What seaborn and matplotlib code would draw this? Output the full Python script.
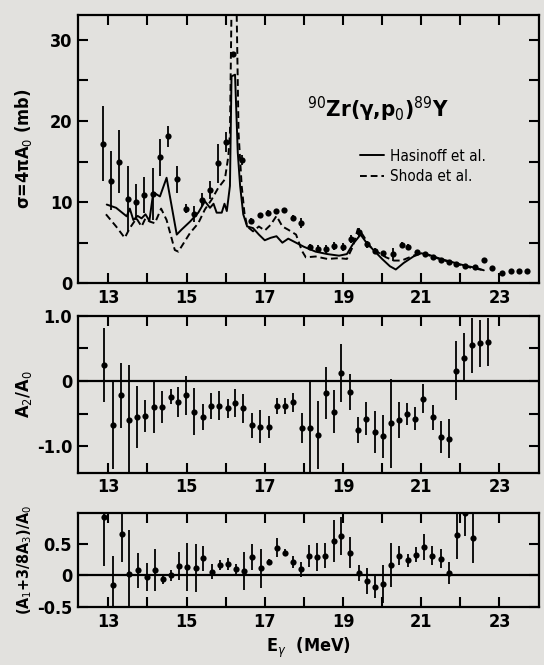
import matplotlib
matplotlib.use("Agg")
import matplotlib.pyplot as plt
import seaborn as sns
import pandas as pd
from matplotlib.ticker import FixedLocator

# --- top panel: sigma = 4 pi A0 (mb), measured points ---
sig_e = [12.87, 13.08, 13.28, 13.51, 13.72, 13.92, 14.13, 14.33, 14.53, 14.75,
         14.98, 15.19, 15.39, 15.6, 15.8, 16.0, 16.18, 16.41, 16.66, 16.88,
         17.09, 17.3, 17.5, 17.71, 17.92, 18.16, 18.36, 18.57, 18.78, 19.0,
         19.2, 19.42, 19.62, 19.82, 20.03, 20.29, 20.5, 20.67, 20.9, 21.1,
         21.3, 21.5, 21.7, 21.9, 22.12, 22.37, 22.6, 22.8, 23.06, 23.3, 23.5, 23.7]
sig_v = [17.2, 12.65, 15.0, 10.4, 10.0, 10.9, 11.0, 15.5, 18.1, 12.8,
         9.2, 8.5, 10.3, 11.5, 14.8, 17.4, 28.3, 15.2, 7.7, 8.4,
         8.7, 8.9, 9.0, 8.1, 7.4, 4.5, 4.2, 4.2, 4.6, 4.5,
         5.5, 6.3, 4.8, 4.0, 3.7, 3.6, 4.7, 4.5, 3.8, 3.6,
         3.2, 2.9, 2.6, 2.4, 2.1, 2.0, 2.9, 1.9, 1.3, 1.5, 1.5, 1.5]
sig_err = [4.6, 3.6, 3.9, 4.0, 2.2, 2.2, 3.2, 2.3, 1.3, 1.7,
           0.6, 1.0, 0.8, 1.1, 2.4, 1.2, 0.0, 0.6, 0.3, 0.3,
           0.3, 0.3, 0.3, 0.3, 0.6, 0.4, 0.5, 0.5, 0.5, 0.5,
           0.5, 0.5, 0.4, 0.3, 0.3, 0.8, 0.4, 0.3, 0.2, 0.2,
           0.2, 0.2, 0.2, 0.2, 0.2, 0.2, 0.2, 0.2, 0.2, 0.2, 0.2, 0.2]

# Hasinoff et al. (solid)
has_e = [12.96, 13.2, 13.47, 13.55, 13.64, 13.75, 13.85, 13.95, 14.05, 14.15,
         14.32, 14.49, 14.75, 14.87, 15.09, 15.3, 15.47, 15.6, 15.69, 15.77,
         15.9, 15.97, 16.03, 16.11, 16.15, 16.24, 16.31, 16.37, 16.45, 16.55,
         16.7, 16.85, 17.0, 17.15, 17.3, 17.45, 17.6, 17.8, 18.0, 18.3,
         18.6, 18.9, 19.1, 19.25, 19.45, 19.6, 19.8, 20.0, 20.2, 20.35,
         20.55, 20.8, 21.0, 21.2, 21.5, 21.8, 22.1, 22.4, 22.6]
has_v = [9.7, 9.3, 8.25, 9.2, 7.8, 8.3, 8.0, 8.5, 7.7, 11.2,
         10.7, 13.0, 6.0, 6.6, 7.6, 8.7, 10.1, 9.3, 9.8, 8.7,
         8.7, 9.8, 8.9, 12.0, 25.5, 25.7, 16.1, 12.0, 8.5, 7.0,
         6.8, 6.0, 5.3, 5.6, 5.8, 5.0, 5.5, 5.0, 4.5, 3.9,
         3.6, 3.4, 3.6, 4.8, 6.0, 5.0, 4.0, 3.0, 2.1, 1.7,
         2.5, 3.3, 3.7, 3.5, 3.0, 2.6, 2.2, 1.9, 1.6]

# Shoda et al. (dashed)
sho_e = [12.94, 13.2, 13.42, 13.55, 13.72, 13.85, 13.95, 14.06, 14.19, 14.35,
         14.49, 14.7, 14.79, 15.09, 15.3, 15.47, 15.64, 15.81, 15.98, 16.07,
         16.11, 16.15, 16.28, 16.33, 16.41, 16.48, 16.55, 16.7, 16.85, 17.0,
         17.15, 17.3, 17.45, 17.6, 17.8, 17.95, 18.05, 18.3, 18.6, 18.9,
         19.1, 19.25, 19.38, 19.5, 19.7, 19.9, 20.1, 20.3, 20.5, 20.7,
         20.9, 21.1, 21.4, 21.8, 22.2, 22.6]
sho_v = [8.5, 7.0, 5.6, 6.8, 8.0, 7.0, 8.0, 7.6, 7.4, 9.2,
         7.8, 4.1, 3.9, 6.2, 7.4, 9.1, 10.3, 11.75, 12.8, 15.7,
         18.5, 34.0, 34.0, 18.5, 12.0, 8.7, 7.0, 6.4, 7.0, 6.5,
         7.2, 8.3, 7.0, 6.6, 6.0, 4.0, 3.2, 3.3, 3.0, 3.1,
         3.0, 4.5, 6.7, 6.0, 4.5, 3.8, 3.2, 2.8, 2.8, 3.2,
         3.6, 3.6, 3.1, 2.5, 2.0, 1.6]

# --- middle panel: A2/A0 ---
a2_e = [12.89, 13.11, 13.32, 13.53, 13.74, 13.95, 14.16, 14.37, 14.6, 14.79,
        14.98, 15.2, 15.41, 15.62, 15.83, 16.05, 16.25, 16.45, 16.68, 16.88,
        17.1, 17.32, 17.52, 17.71, 17.94, 18.15, 18.36, 18.56, 18.77, 18.95,
        19.18, 19.39, 19.6, 19.81, 20.02, 20.24, 20.44, 20.64, 20.85, 21.05,
        21.29, 21.5, 21.7, 21.89, 22.09, 22.3, 22.51, 22.71]
a2_v = [0.24, -0.67, -0.22, -0.6, -0.55, -0.54, -0.4, -0.4, -0.24, -0.32,
        -0.22, -0.47, -0.55, -0.38, -0.38, -0.42, -0.34, -0.42, -0.68, -0.7,
        -0.71, -0.38, -0.38, -0.33, -0.72, -0.72, -0.83, -0.18, -0.47, 0.12,
        -0.17, -0.75, -0.58, -0.78, -0.85, -0.65, -0.6, -0.51, -0.58, -0.27,
        -0.56, -0.86, -0.89, 0.16, 0.36, 0.55, 0.58, 0.6]
a2_err = [0.57, 0.68, 0.5, 0.85, 0.48, 0.25, 0.4, 0.25, 0.12, 0.23,
          0.3, 0.36, 0.2, 0.2, 0.22, 0.15, 0.22, 0.22, 0.19, 0.25,
          0.17, 0.12, 0.12, 0.15, 0.23, 0.7, 0.52, 0.4, 0.33, 0.45,
          0.28, 0.2, 0.25, 0.32, 0.33, 0.68, 0.28, 0.17, 0.18, 0.22,
          0.19, 0.24, 0.3, 0.45, 0.38, 0.42, 0.36, 0.37]

# --- bottom panel: (A1 + 3/8 A3)/A0 ---
a13_e = [12.9, 13.13, 13.34, 13.54, 13.77, 13.98, 14.19, 14.4, 14.61, 14.81,
         15.02, 15.23, 15.42, 15.65, 15.85, 16.06, 16.27, 16.47, 16.68, 16.9,
         17.11, 17.31, 17.52, 17.72, 17.92, 18.13, 18.33, 18.54, 18.76, 18.96,
         19.17, 19.4, 19.62, 19.82, 20.02, 20.24, 20.44, 20.66, 20.87, 21.08,
         21.28, 21.5, 21.7, 21.91, 22.11, 22.33]
a13_v = [0.93, -0.15, 0.66, 0.02, 0.08, -0.03, 0.09, -0.06, 0.0, 0.15,
         0.13, 0.12, 0.27, 0.06, 0.16, 0.18, 0.1, 0.07, 0.29, 0.11,
         0.21, 0.44, 0.36, 0.21, 0.1, 0.31, 0.29, 0.31, 0.54, 0.63,
         0.36, 0.04, -0.09, -0.18, -0.13, 0.17, 0.31, 0.24, 0.33, 0.45,
         0.31, 0.26, 0.04, 0.64, 0.98, 0.59]
a13_err = [0.78, 0.45, 0.45, 0.7, 0.27, 0.22, 0.33, 0.08, 0.08, 0.22,
           0.38, 0.38, 0.2, 0.12, 0.08, 0.1, 0.08, 0.3, 0.2, 0.3,
           0.05, 0.15, 0.05, 0.1, 0.12, 0.17, 0.22, 0.2, 0.33, 0.3,
           0.25, 0.12, 0.2, 0.18, 0.3, 0.35, 0.15, 0.1, 0.12, 0.2,
           0.15, 0.15, 0.17, 0.38, 0.35, 0.4]

bg = "#e2e1de"
sns.set_style("ticks")
plt.rcParams["font.family"] = ["DejaVu Sans"]
plt.rcParams["font.stretch"] = "condensed"
plt.rcParams["mathtext.fontset"] = "dejavusans"
plt.rcParams["axes.linewidth"] = 1.6
for key in ["text.color", "axes.labelcolor", "xtick.color", "ytick.color", "axes.edgecolor"]:
    plt.rcParams[key] = "black"

fig = plt.figure(figsize=(5.44, 6.65), dpi=100, facecolor=bg)
left, width = 0.143, 0.847
ax1 = fig.add_axes([left, 0.574, width, 0.404])
ax2 = fig.add_axes([left, 0.289, width, 0.236])
ax3 = fig.add_axes([left, 0.087, width, 0.141])


def points(ax, e, v, err):
    ax.errorbar(e, v, yerr=err, fmt="none", ecolor="black", elinewidth=1.3, capsize=0)
    df = pd.DataFrame({"E": e, "v": v})
    sns.scatterplot(data=df, x="E", y="v", ax=ax, color="black", s=20,
                    edgecolor="black", linewidth=0, zorder=3)


def style(ax, ylim, major, minor, labels):
    ax.set_facecolor(bg)
    ax.set_xlim(12.22, 24.0)
    ax.set_ylim(*ylim)
    ax.xaxis.set_major_locator(FixedLocator([13, 15, 17, 19, 21, 23]))
    ax.xaxis.set_minor_locator(FixedLocator([14, 16, 18, 20, 22]))
    ax.yaxis.set_major_locator(FixedLocator(major))
    ax.yaxis.set_minor_locator(FixedLocator(minor))
    ax.set_yticklabels(labels)
    ax.tick_params(which="both", direction="in", top=True, right=True,
                   width=1.5, length=7, labelsize=13, pad=4)
    for lab in ax.get_xticklabels() + ax.get_yticklabels():
        lab.set_fontweight("bold")
        lab.set_fontstretch("condensed")
    ax.set_xlabel("")
    ax.yaxis.set_label_coords(-0.095, 0.5)


# top panel
df_has = pd.DataFrame({"E": has_e, "v": has_v})
df_sho = pd.DataFrame({"E": sho_e, "v": sho_v})
sns.lineplot(data=df_has, x="E", y="v", ax=ax1, color="black", lw=1.4,
             sort=False, estimator=None, label="Hasinoff et al.")
sns.lineplot(data=df_sho, x="E", y="v", ax=ax1, color="black", lw=1.4,
             sort=False, estimator=None, label="Shoda et al.")
ax1.lines[-1].set_dashes((3.5, 2))
points(ax1, sig_e, sig_v, sig_err)
style(ax1, (0, 33.1), [0, 10, 20, 30], [5, 15, 25], ["0", "10", "20", "30"])
ax1.set_ylabel(r"σ=4πA$_0$ (mb)", fontsize=13, fontweight="bold")
ax1.text(19.9, 21.4, r"$^{90}$Zr(γ,p$_0$)$^{89}$Y", fontsize=16,
         fontweight="bold", ha="center", va="center")
leg = ax1.legend(loc="upper left", bbox_to_anchor=(0.595, 0.53), frameon=False,
                 fontsize=11, handlelength=1.6, handletextpad=0.4,
                 labelspacing=0.35, borderpad=0)
leg.get_lines()[1].set_dashes((3.5, 2))

# middle panel
points(ax2, a2_e, a2_v, a2_err)
ax2.axhline(0, color="black", lw=1.6)
style(ax2, (-1.41, 1.0), [1.0, 0, -1.0], [0.5, -0.5], ["1.0", "0", "-1.0"])
ax2.set_ylabel(r"A$_2$/A$_0$", fontsize=13, fontweight="bold")

# bottom panel
points(ax3, a13_e, a13_v, a13_err)
ax3.axhline(0, color="black", lw=1.6)
style(ax3, (-0.5, 0.98), [0.5, 0, -0.5], [], ["0.5", "0", "-0.5"])
ax3.set_ylabel(r"(A$_1$+3/8A$_3$)/A$_0$", fontsize=11.5, fontweight="bold")
ax3.set_xlabel(r"E$_\gamma$  (MeV)", fontsize=13, fontweight="bold", labelpad=4)

fig.savefig("out.png", dpi=100, facecolor=bg)
